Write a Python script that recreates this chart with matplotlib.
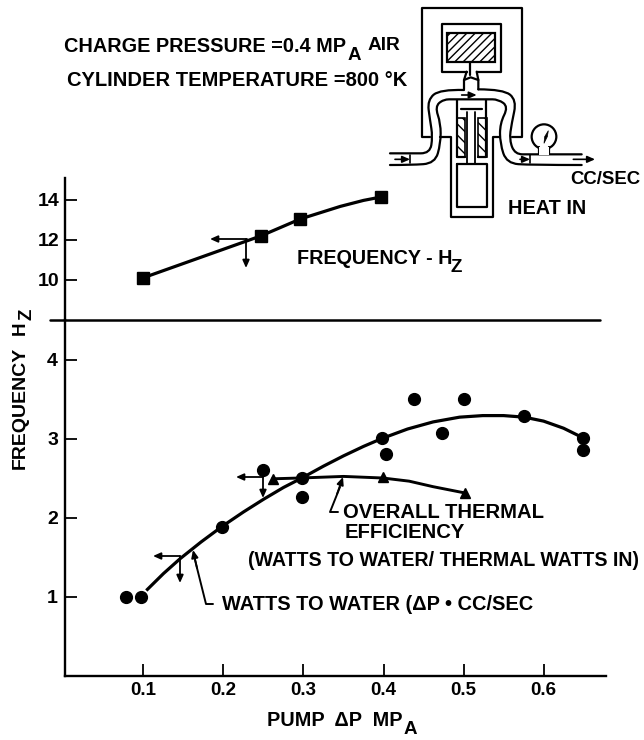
import matplotlib
matplotlib.use("Agg")
import matplotlib.pyplot as plt
from matplotlib.patches import Rectangle, Circle, Polygon, PathPatch
from matplotlib.path import Path

plt.rcParams['font.family'] = ['Liberation Sans', 'DejaVu Sans']
plt.rcParams['font.weight'] = 'bold'
plt.rcParams['hatch.linewidth'] = 1.0

# Frequency (top panel)
freq_x = [0.099, 0.2465, 0.296, 0.397]
freq_y = [10.1, 12.2, 13.05, 14.15]
freq_curve_x = [0.099, 0.2465, 0.296, 0.346, 0.375, 0.397]
freq_curve_y = [10.1, 12.2, 13.05, 13.68, 13.98, 14.15]

# Watts to water scatter and hand drawn curve
watts_x = [0.078, 0.097, 0.198, 0.25, 0.298, 0.298, 0.398, 0.403, 0.438, 0.473, 0.5, 0.576, 0.649, 0.649]
watts_y = [1.0, 1.0, 1.885, 2.6, 2.5, 2.26, 3.01, 2.81, 3.5, 3.07, 3.5, 3.28, 3.01, 2.86]
curve_x = [0.105, 0.125, 0.146, 0.172, 0.198, 0.225, 0.25, 0.275, 0.298, 0.325, 0.35, 0.375, 0.398, 0.43, 0.462, 0.495, 0.524, 0.55, 0.576, 0.6, 0.625, 0.649]
curve_y = [1.09, 1.29, 1.48, 1.69, 1.885, 2.07, 2.23, 2.38, 2.5, 2.65, 2.78, 2.9, 3.0, 3.12, 3.21, 3.27, 3.29, 3.29, 3.27, 3.22, 3.13, 3.01]

# Overall thermal efficiency
eff_x = [0.262, 0.399, 0.502]
eff_y = [2.49, 2.51, 2.31]
eff_curve_x = [0.262, 0.296, 0.35, 0.399, 0.432, 0.462, 0.502]
eff_curve_y = [2.49, 2.5, 2.52, 2.5, 2.46, 2.39, 2.31]

lower_ticks = [1, 2, 3, 4]
upper_ticks = [10, 12, 14]
x_ticks = [0.1, 0.2, 0.3, 0.4, 0.5, 0.6]

W, H = 644, 740
fig = plt.figure(figsize=(W / 100, H / 100), dpi=100)

def axes_px(x0, y0, x1, y1):
    return fig.add_axes([x0 / W, 1 - y1 / H, (x1 - x0) / W, (y1 - y0) / H])

ax = axes_px(65, 320, 606, 675.5)
ax_top = axes_px(65, 178, 606, 320)
over = fig.add_axes([0, 0, 1, 1])
over.set_xlim(0, W)
over.set_ylim(H, 0)
over.axis('off')
over.patch.set_alpha(0)

ax.set_xlim(0.002, 0.678)
ax.set_ylim(0, 4.5)
ax_top.set_xlim(0.002, 0.678)
ax_top.set_ylim(8, 15.1)

for a in (ax, ax_top):
    for s in ('top', 'right'):
        a.spines[s].set_visible(False)
    a.spines['left'].set_linewidth(1.7)
    a.spines['bottom'].set_linewidth(1.7)
    a.patch.set_alpha(0)
ax_top.spines['bottom'].set_visible(False)

ax.set_xticks(x_ticks)
ax.set_xticklabels([f"{v:.1f}" for v in x_ticks], fontsize=13.5)
ax.set_yticks(lower_ticks)
ax.set_yticklabels([str(v) for v in lower_ticks], fontsize=14)
ax_top.set_xticks([])
ax_top.set_yticks(upper_ticks)
ax_top.set_yticklabels([str(v) for v in upper_ticks], fontsize=14)
ax.tick_params(axis='both', direction='in', length=8.5, width=1.3, pad=5)
ax_top.tick_params(axis='y', direction='in', length=8.5, width=1.3, pad=4)

ax_top.plot(freq_curve_x, freq_curve_y, color='k', lw=2.3, solid_joinstyle='round')
ax_top.plot(freq_x, freq_y, 's', color='k', ms=8.5)

ax.plot(curve_x, curve_y, color='k', lw=2.3, solid_joinstyle='round')
ax.plot(watts_x, watts_y, 'o', color='k', ms=8.5, clip_on=False)
ax.plot(eff_curve_x, eff_curve_y, color='k', lw=2.1, solid_joinstyle='round')
ax.plot(eff_x, eff_y, '^', color='k', ms=7.5)


def line(pts, lw=1.6):
    xs = [p[0] for p in pts]
    ys = [p[1] for p in pts]
    over.plot(xs, ys, color='k', lw=lw, solid_capstyle='round', solid_joinstyle='round')


def smooth(pts, lw=1.6):
    # quadratic segments through the midpoints so the tubes come out round
    verts = [pts[0]]
    codes = [Path.MOVETO]
    for i in range(1, len(pts) - 1):
        mid = ((pts[i][0] + pts[i + 1][0]) / 2, (pts[i][1] + pts[i + 1][1]) / 2)
        if i == len(pts) - 2:
            mid = pts[-1]
        verts += [pts[i], mid]
        codes += [Path.CURVE3, Path.CURVE3]
    over.add_patch(PathPatch(Path(verts, codes), fc='none', ec='k', lw=lw, capstyle='round'))


def arrow(start, tip, lw=1.3):
    over.annotate("", xy=tip, xytext=start,
                  arrowprops=dict(arrowstyle='-|>,head_length=0.45,head_width=0.2', color='k', lw=lw,
                                  shrinkA=0, shrinkB=0))


def label(x, y, s, size=14.3, **kw):
    over.text(x, y, s, fontsize=size, ha=kw.pop('ha', 'left'), va='center', color='k', **kw)


# divider between the panels
line([(50, 320), (600, 320)], lw=1.8)

# direction arrows on the curves
arrow((247, 239), (210, 239))
arrow((246, 239), (246, 268))
arrow((180, 556), (153, 556))
arrow((180, 556), (180, 583))
arrow((263, 477), (236, 477))
arrow((263, 477), (263, 498))

# leaders
line([(213, 604), (206, 604), (195, 560)], lw=1.4)
arrow((197, 568), (193, 550))
line([(338, 512), (330, 512), (340, 487)], lw=1.4)
arrow((337, 494), (343, 477))

# text
label(64, 46, "CHARGE PRESSURE =0.4 MP")
label(348, 56, "A", size=13.5)
label(368, 46, "AIR", size=13.8)
label(67, 81, "CYLINDER TEMPERATURE =800 °K", size=14.5)
label(570, 179, "CC/SEC", size=13.4)
label(508, 209, "HEAT IN")
label(297, 258, "FREQUENCY - H", size=14.2)
label(451, 267, "Z", size=13.5)
label(343, 513, "OVERALL THERMAL", size=14.6)
label(345, 533, "EFFICIENCY", size=14.6)
label(248, 560, "(WATTS TO WATER/ THERMAL WATTS IN)", size=14.1)
label(222, 604, "WATTS TO WATER (ΔP • CC/SEC", size=14.4)
label(267, 721, "PUMP  ΔP  MP")
label(404, 730, "A", size=13.5)
over.text(20, 408, "FREQUENCY", fontsize=14, rotation=90, ha='center', va='center')
over.text(20, 328, "H", fontsize=13.5, rotation=90, ha='center', va='center')
over.text(27, 314, "Z", fontsize=13.5, rotation=90, ha='center', va='center')


# engine schematic, traced in zoomed crop coordinates
def z(x, y):
    return (340 + x / 3, y / 3)


def zline(pts, lw=1.6):
    line([z(*p) for p in pts], lw=lw)


def zsmooth(pts, lw=1.6):
    smooth([z(*p) for p in pts], lw=lw)


zline([(270, 410), (245, 410), (245, 25), (547, 25), (547, 410), (515, 410)])
zline([(380, 215), (305, 215), (305, 72), (482, 72), (482, 215), (410, 215)])
x0, y0 = z(320, 100)
x1, y1 = z(465, 185)
over.add_patch(Rectangle((x0, y0), x1 - x0, y1 - y0, fc='w', ec='k', lw=1.6, hatch='////'))
zline([(390, 185), (390, 225)])
zline([(380, 215), (372, 240), (372, 268)])
zline([(410, 215), (415, 240), (415, 268)])
zline([(372, 240), (392, 232), (415, 240)])

zsmooth([(372, 270), (300, 268), (262, 300), (270, 360), (278, 410), (270, 460), (215, 460), (150, 460)])
zsmooth([(150, 495), (215, 495), (285, 490), (302, 430), (302, 370), (285, 320), (310, 298), (345, 298), (440, 298), (475, 298), (505, 320), (480, 370), (480, 430), (500, 490), (570, 495), (725, 495)])
zsmooth([(415, 268), (490, 268), (530, 300), (515, 370), (508, 420), (525, 463), (570, 463), (725, 463)])
zline([(210, 465), (210, 490)], lw=1.2)
zline([(570, 465), (570, 490)], lw=1.2)

zline([(300, 410), (333, 410), (333, 650), (458, 650), (458, 410), (480, 410)])
zline([(350, 300), (350, 470), (375, 470)])
zline([(437, 300), (437, 470), (415, 470)])
for hx in (350, 415):
    x0, y0 = z(hx, 355)
    x1, y1 = z(hx + 25, 470)
    over.add_patch(Rectangle((x0, y0), x1 - x0, y1 - y0, fc='w', ec='k', lw=1.2, hatch='\\\\\\'))
zline([(380, 335), (380, 492)], lw=1.3)
zline([(405, 335), (405, 492)], lw=1.3)
zline([(362, 328), (425, 328)])
zline([(350, 492), (440, 492), (440, 620), (350, 620), (350, 492)])

cx, cy = z(612, 410)
over.add_patch(Circle((cx, cy), 37 / 3, fc='w', ec='k', lw=1.6))
over.add_patch(Rectangle(z(597, 440), 30 / 3, 26 / 3, fc='w', ec='none', zorder=3))
zline([(597, 440), (597, 463)])
zline([(627, 440), (627, 463)])
over.add_patch(Polygon([z(625, 392), z(622, 410), z(612, 430), z(614, 410)], fc='k', ec='k', lw=0.5))

arrow(z(165, 478), z(210, 478), lw=1.2)
arrow(z(540, 478), z(570, 478), lw=1.2)
arrow(z(700, 478), z(765, 478), lw=1.2)
arrow(z(365, 285), z(410, 285), lw=1.2)

over.set_xlim(0, W)
over.set_ylim(H, 0)

fig.savefig("out.png", dpi=100)
